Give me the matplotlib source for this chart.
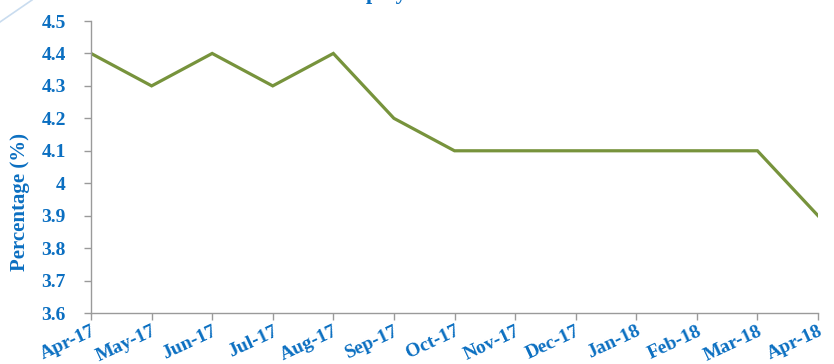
import matplotlib
matplotlib.use("Agg")
import matplotlib.pyplot as plt

months = ["Apr-17", "May-17", "Jun-17", "Jul-17", "Aug-17", "Sep-17", "Oct-17",
          "Nov-17", "Dec-17", "Jan-18", "Feb-18", "Mar-18", "Apr-18"]
rate = [4.4, 4.3, 4.4, 4.3, 4.4, 4.2, 4.1, 4.1, 4.1, 4.1, 4.1, 4.1, 3.9]
yticks = [3.6, 3.7, 3.8, 3.9, 4.0, 4.1, 4.2, 4.3, 4.4, 4.5]
ytick_labels = ["3.6", "3.7", "3.8", "3.9", "4", "4.1", "4.2", "4.3", "4.4", "4.5"]

blue = "#0B6FC1"
green = "#77933C"
grey = "#9A9A9A"
serif = ["Liberation Serif", "DejaVu Serif"]

W, H = 834, 364
fig = plt.figure(figsize=(W / 100, H / 100), dpi=100)
ax = fig.add_axes([91 / W, 1 - 313 / H, (818 - 91) / W, (313 - 21) / H])

x = list(range(len(months)))
ax.plot(x, rate, color=green, lw=2.3, solid_joinstyle="miter")

ax.set_xlim(0, len(months) - 1)
ax.set_ylim(3.6, 4.5)
ax.set_yticks(yticks)
ax.set_yticklabels(ytick_labels)
ax.set_xticks(x)
ax.set_xticklabels(months, rotation=25, ha="right", va="top", rotation_mode="anchor")

for s in ("top", "right"):
    ax.spines[s].set_visible(False)
for s in ("left", "bottom"):
    ax.spines[s].set_color(grey)
    ax.spines[s].set_linewidth(1.0)

ax.tick_params(axis="both", colors=grey, length=5, width=1.0, direction="out")
ax.tick_params(axis="y", pad=13)
ax.tick_params(axis="x", pad=2)
for lab in ax.get_yticklabels() + ax.get_xticklabels():
    lab.set_color(blue)
    lab.set_fontfamily(serif)
    lab.set_fontweight("bold")
    lab.set_fontsize(14)

ax.set_ylabel("Percentage (%)", color=blue, fontfamily=serif, fontweight="bold",
              fontsize=15, va="center", ha="center")
ax.yaxis.set_label_coords((20 - 91) / 727, (313 - 202) / 292)

fig.text(309 / W, 1 + 1 / H, "Unemployment Rate", color=blue, fontfamily=serif,
         fontweight="bold", fontsize=16, va="baseline", ha="left")

fig.add_artist(plt.Line2D([0, 32 / W], [1 - 22 / H, 1.0], color="#C9DCEF", lw=1.2,
                          transform=fig.transFigure))

fig.savefig("out.png", dpi=100)
